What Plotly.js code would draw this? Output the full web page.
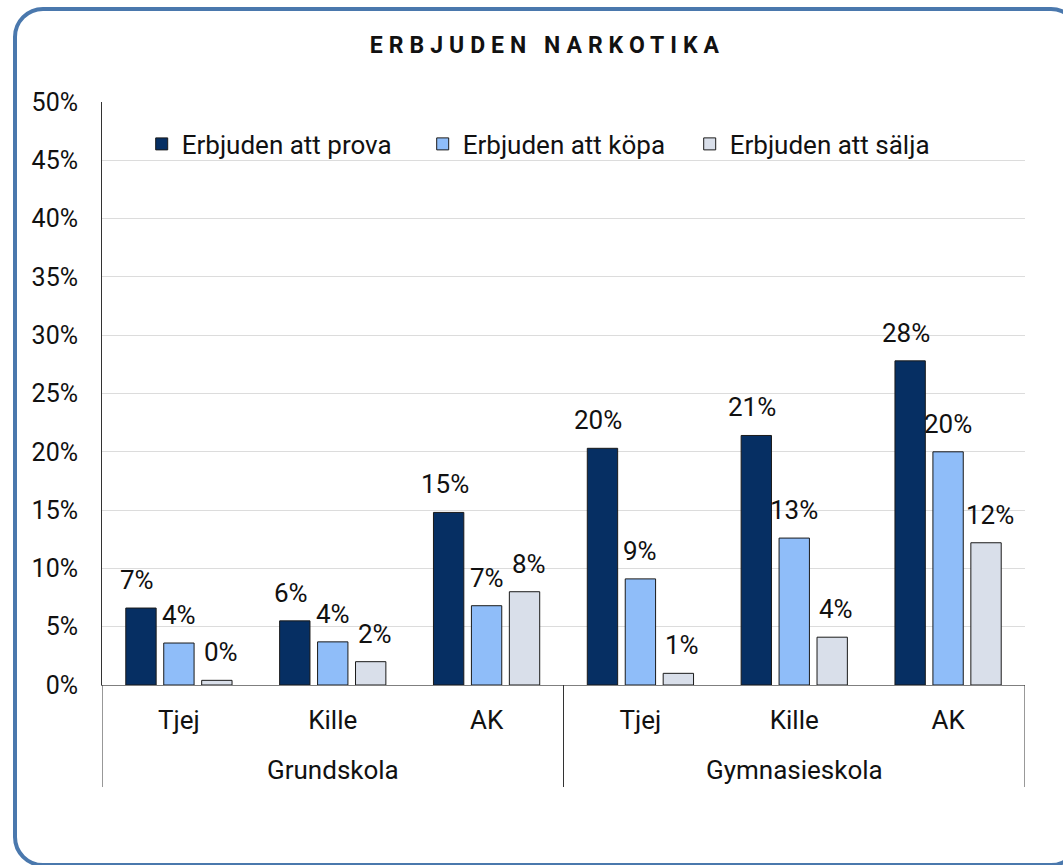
<!DOCTYPE html>
<html>
<head>
<meta charset="utf-8">
<script src="https://cdn.plot.ly/plotly-3.0.1.min.js"></script>
<style>
  html, body { margin: 0; padding: 0; background: #fff; overflow: hidden; }
  #frame { position: absolute; left: 13px; top: 7px; width: 1068px; height: 860px;
           border: 4px solid #4a78ad; border-radius: 30px; box-sizing: border-box; pointer-events: none; }
  #chart { position: absolute; left: 0; top: 0; width: 1063px; height: 865px; }
  .gtitle { letter-spacing: 6px; }
</style>
</head>
<body>
<div id="chart"></div>
<div id="frame"></div>
<script>
const groups = ["Grundskola", "Grundskola", "Grundskola", "Gymnasieskola", "Gymnasieskola", "Gymnasieskola"];
const categories = ["Tjej", "Kille", "AK", "Tjej", "Kille", "AK"];
const seriesNames = ["Erbjuden att prova", "Erbjuden att köpa", "Erbjuden att sälja"];
const prova = [6.6, 5.5, 14.8, 20.3, 21.4, 27.8];
const kopa  = [3.6, 3.7, 6.8, 9.1, 12.6, 20.0];
const salja = [0.4, 2.0, 8.0, 1.0, 4.1, 12.2];
const colors = ["#062f63", "#8fbdf9", "#d9dfea"];
const legendWidths = [236, 222, 230];
const yTicks = [0, 5, 10, 15, 20, 25, 30, 35, 40, 45, 50];

const seriesValues = [prova, kopa, salja];
const font = "Roboto, 'Noto Sans', sans-serif";
const idx = categories.map((_, i) => i);

const traces = seriesValues.map((vals, i) => ({
  type: "bar",
  name: seriesNames[i],
  x: idx,
  y: vals,
  legendwidth: legendWidths[i],
  marker: { color: colors[i], line: { color: "#1a1a1a", width: 1 } },
  hoverinfo: "none"
}));

const annotations = [];
seriesValues.forEach((vals, i) => {
  vals.forEach((v, j) => {
    annotations.push({
      x: j, y: v, xref: "x", yref: "y",
      text: Math.round(v) + "%",
      showarrow: false,
      xshift: (i - 1) * 42,
      yshift: 28,
      yanchor: "middle",
      font: { family: font, size: 26, color: "#111" }
    });
  });
});

// group labels and dividers built from the groups array
const uniqueGroups = [...new Set(groups)];
const shapes = [];
uniqueGroups.forEach(g => {
  const members = idx.filter(i => groups[i] === g);
  const first = members[0], last = members[members.length - 1];
  annotations.push({
    x: (first + last) / 2, y: -0.1455, xref: "x", yref: "paper",
    text: g, showarrow: false, yanchor: "middle",
    font: { family: font, size: 26, color: "#111" }
  });
});
const boundaries = [-0.5];
uniqueGroups.forEach(g => {
  const members = idx.filter(i => groups[i] === g);
  boundaries.push(members[members.length - 1] + 0.5);
});
boundaries.forEach(b => {
  shapes.push({ type: "line", xref: "x", yref: "paper", x0: b, x1: b, y0: 0, y1: -0.175,
                line: { color: "#333", width: 1 } });
});

const layout = {
  width: 1063, height: 865,
  margin: { l: 102, r: 38, t: 102, b: 180 },
  paper_bgcolor: "#ffffff", plot_bgcolor: "#ffffff",
  font: { family: font, color: "#111", size: 25 },
  title: { text: "<b>ERBJUDEN NARKOTIKA</b>", x: 0.515, xanchor: "center", y: 0.9475, yanchor: "middle",
           font: { family: font, size: 23, color: "#111" } },
  barmode: "group",
  bargap: 0.26,
  bargroupgap: 0.2,
  showlegend: true,
  legend: {
    orientation: "h", x: 0.043, y: 0.928, xanchor: "left", yanchor: "middle",
    font: { family: font, size: 26, color: "#111" },
    itemwidth: 30,
    bgcolor: "rgba(0,0,0,0)", traceorder: "normal"
  },
  xaxis: {
    type: "linear", range: [-0.5, 5.5],
    tickvals: idx, ticktext: categories,
    showline: true, linecolor: "#7f7f7f", linewidth: 1,
    tickfont: { family: font, size: 26, color: "#111" },
    ticks: "", showgrid: false, zeroline: false, ticklabelstandoff: 12
  },
  yaxis: {
    range: [0, 50], tickvals: yTicks, ticktext: yTicks.map(t => t + "%"),
    showgrid: true, gridcolor: "#dcdcdc", gridwidth: 1,
    showline: true, linecolor: "#333", linewidth: 1,
    zeroline: false, ticks: "", ticklabelstandoff: 18,
    tickfont: { family: font, size: 25, color: "#111" }
  },
  annotations: annotations,
  shapes: shapes
};

Plotly.newPlot("chart", traces, layout, { displayModeBar: false, staticPlot: true });
</script>
</body>
</html>
